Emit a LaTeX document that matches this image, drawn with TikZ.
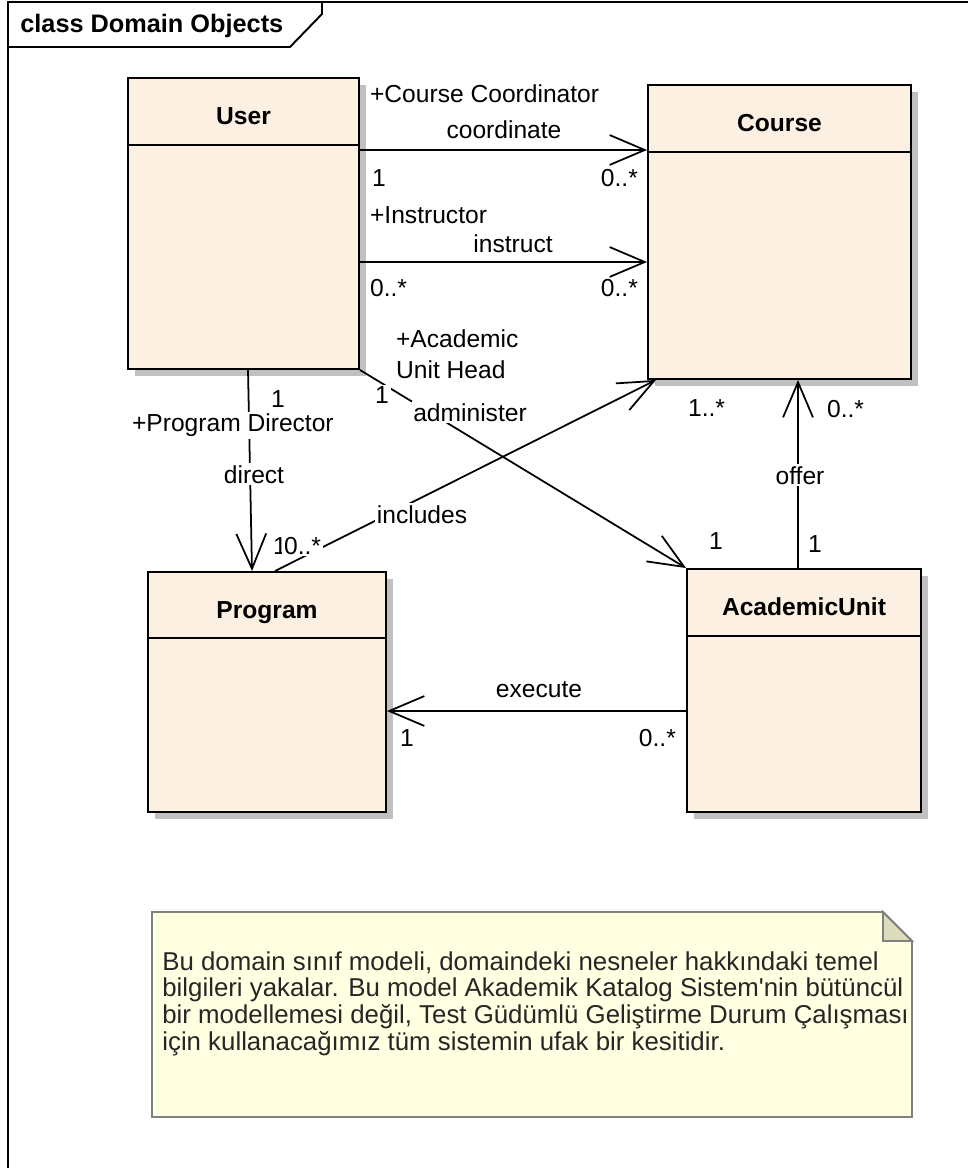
\documentclass[tikz,border=0pt]{standalone}
\usepackage{fontspec}
\setmainfont{Liberation Sans}
\usetikzlibrary{arrows.meta,fit,shadows}

\definecolor{classfill}{RGB}{251,240,225}
\definecolor{shadowgray}{RGB}{192,192,192}
\definecolor{notefill}{RGB}{255,255,225}
\definecolor{notefold}{RGB}{221,221,190}
\definecolor{noteline}{RGB}{128,128,128}

\tikzset{
  classbox/.style={draw, line width=1.1pt, fill=classfill, inner sep=0pt,
    drop shadow={shadow xshift=4pt, shadow yshift=-4pt, fill=shadowgray, opacity=1}},
  classname/.style={font=\bfseries\fontsize{14}{16}\selectfont, anchor=base, inner sep=0pt},
  assoc/.style={line width=1pt, -{Straight Barb[length=20pt,width=17pt,line width=1pt]}},
  role/.style={font=\fontsize{14}{16}\selectfont, fill=white, inner sep=1pt},
}

\begin{document}
\begin{tikzpicture}[x=0.02cm, y=-0.02cm]
          \useasboundingbox (0,0) rectangle (968,1168);
          % frame
          \draw[line width=1.1pt] (8,1168) -- (8,2) -- (968,2);
          \draw[line width=1.1pt] (8,47) -- (290,47) -- (322,14) -- (322,2);
          \node[anchor=base west, inner sep=0pt, font=\bfseries\fontsize{14.4}{16}\selectfont] (frametitle) at (20,33) {class Domain Objects};

          % classes
          \node[classbox, fit={(128,78) (359,369)}] (user) {};
          \node[classname] (usertitle) at (user.north |- 0,125) {User};
          \draw[line width=1.1pt] (user.west |- 0,145) -- (user.east |- 0,145);

          \node[classbox, fit={(648,85) (911,379)}] (course) {};
          \node[classname] (coursetitle) at (course.north |- 0,132) {Course};
          \draw[line width=1.1pt] (course.west |- 0,152) -- (course.east |- 0,152);

          \node[classbox, fit={(148,572) (386,812)}] (program) {};
          \node[classname] (programtitle) at (program.north |- 0,618) {Program};
          \draw[line width=1.1pt] (program.west |- 0,638) -- (program.east |- 0,638);

          \node[classbox, fit={(687,569) (921,812)}] (acad) {};
          \node[classname] (acadtitle) at (acad.north |- 0,615) {AcademicUnit};
          \draw[line width=1.1pt] (acad.west |- 0,636) -- (acad.east |- 0,636);

          % associations
          \draw[assoc] (user.east |- 0,150) -- (course.west |- 0,150);
          \draw[assoc] (user.east |- 0,262) -- (course.west |- 0,262);
          \draw[assoc] (user.south east) -- (acad.north west);
          \draw[assoc] (user.south -| 248,0) -- (program.north -| 252,0);
          \draw[assoc] (program.north -| 275,0) -- (course.south -| 656,0);
          \draw[assoc] (acad.north -| 798,0) -- (course.south -| 798,0);
          \draw[assoc] (acad.west |- 0,711) -- (program.east |- 0,711);

          % roles and multiplicities
          \node[role, anchor=base west] (coordrole) at (368,103) {+Course Coordinator};
          \node[role, anchor=base] (coordname) at (504,139) {coordinate};
          \node[role, anchor=base west] (coordsrc) at (370,187) {1};
          \node[role, anchor=base east] (coorddst) at (640,187) {0..*};
          \node[role, anchor=base west] (instrole) at (368,224) {+Instructor};
          \node[role, anchor=base] (instname) at (513,253) {instruct};
          \node[role, anchor=base west] (instsrc) at (368,297) {0..*};
          \node[role, anchor=base east] (instdst) at (640,297) {0..*};
          \node[role, anchor=base west] (headrole) at (394,348) {+Academic};
          \node[role, anchor=base west] (headrole2) at (394,379) {Unit Head};
          \node[role, anchor=base west] (headsrc) at (373,404) {1};
          \node[role, anchor=base] (headname) at (470,421) {administer};
          \node[role, anchor=base west] (dirsrc) at (269,408) {1};
          \node[role, anchor=base west] (dirrole) at (130,432) {+Program Director};
          \node[role, anchor=base] (dirname) at (254,483) {direct};
          \node[role, anchor=base] (inclname) at (422,523) {includes};
          \node[role, anchor=base west] (dirdst) at (271,554) {1};
          \node[role, anchor=base west] (incldst) at (282,554) {0..*};
          \node[role, anchor=base west] (headdst) at (707,549) {1};
          \node[role, anchor=base west] (incldst2) at (686,417) {1..*};
          \node[role, anchor=base west] (offerdst) at (825,418) {0..*};
          \node[role, anchor=base] (offername) at (800,484) {offer};
          \node[role, anchor=base west] (offersrc) at (806,552) {1};
          \node[role, anchor=base] (execname) at (539,697) {execute};
          \node[role, anchor=base west] (execdst) at (398,746) {1};
          \node[role, anchor=base east] (execsrc) at (678,746) {0..*};

          % note
          \filldraw[fill=notefill, draw=noteline, line width=1.1pt] (152,912) -- (883,912) -- (912,941) -- (912,1117) -- (152,1117) -- cycle;
          \filldraw[fill=notefold, draw=noteline, line width=1.1pt] (883,912) -- (883,941) -- (912,941) -- cycle;
          \node[anchor=north west, align=left, inner sep=0pt, text=black!85, font=\fontsize{14.7}{15.2}\selectfont] (note) at (162,951)
            {Bu domain sınıf modeli, domaindeki nesneler hakkındaki temel\\
             bilgileri yakalar. Bu model Akademik Katalog Sistem\textquotesingle nin bütüncül\\
             bir modellemesi değil, Test Güdümlü Geliştirme Durum Çalışması\\
             için kullanacağımız tüm sistemin ufak bir kesitidir.};
        \end{tikzpicture}
\end{document}
